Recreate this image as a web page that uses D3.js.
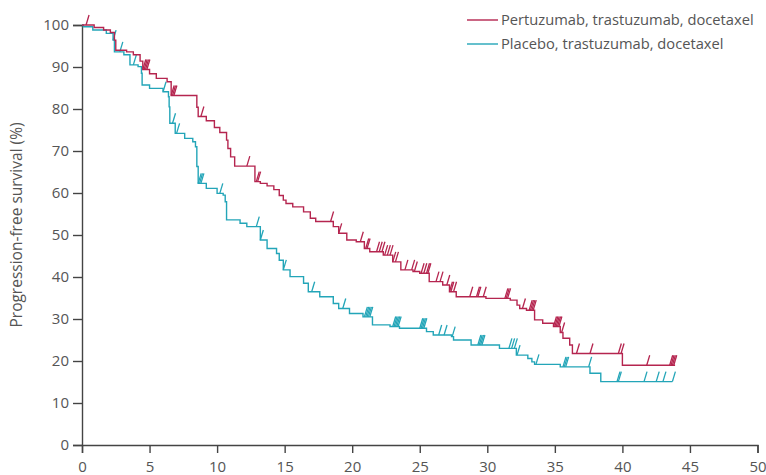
<!DOCTYPE html>
<html>
<head>
<meta charset="utf-8">
<script src="https://cdn.jsdelivr.net/npm/d3@7"></script>
<style>
  html, body { margin: 0; padding: 0; background: #fff; }
  svg { display: block; }
  text { font-family: "Open Sans", "Noto Sans", sans-serif; }
</style>
</head>
<body>
<svg id="chart" width="766" height="475"></svg>
<script>
// ---- Data ----
const seriesNames = ["Pertuzumab, trastuzumab, docetaxel", "Placebo, trastuzumab, docetaxel"];
const xTicks = [0, 5, 10, 15, 20, 25, 30, 35, 40, 45, 50];
const yTicks = [0, 10, 20, 30, 40, 50, 60, 70, 80, 90, 100];

// step curve: [time (months), survival (%)] — value holds from that time on
const pertuzumabSteps = [
  [0,100],[0.9,99.4],[1.6,98.8],[2.1,98.2],[2.4,96.4],[2.5,94.0],[3.3,93.6],[3.8,92.9],[4.3,91.4],[4.5,89.4],
  [5.0,88.4],[5.5,87.3],[6.3,86.5],[6.6,83.2],[8.5,80.4],[8.6,78.2],[9.2,77.2],[9.8,75.6],[10.2,74.4],[10.7,72.6],
  [10.8,70.6],[11.0,68.6],[11.3,66.4],[12.8,62.7],[13.2,62.3],[13.7,61.7],[14.2,60.8],[14.6,59.4],[14.9,58.3],[15.1,57.5],
  [15.6,56.7],[16.4,55.5],[16.9,54.0],[17.3,53.2],[18.6,52.0],[19.0,50.4],[19.6,48.8],[20.3,48.4],[20.9,46.8],[21.3,46.0],
  [22.3,45.2],[23.0,43.6],[23.6,41.7],[24.5,41.3],[25.0,40.9],[25.7,38.9],[26.7,38.1],[27.2,36.5],[27.7,35.3],[29.9,34.9],
  [31.7,34.5],[32.2,33.3],[32.4,32.5],[32.9,32.1],[33.5,29.8],[34.1,29.0],[34.9,28.2],[35.4,26.8],[35.6,25.4],[36.1,23.8],
  [36.3,21.8],[40.0,19.0]
];
const pertuzumabEnd = 43.9;
const pertuzumabCensored = [
  0.3, 4.5, 4.6, 4.7, 4.8, 6.6, 6.7, 6.8, 8.8, 12.2, 12.9, 13.0, 18.4, 19.0, 20.6, 21.0, 21.1,
  21.8, 22.0, 22.2, 22.4, 22.6, 22.8, 23.0, 23.2, 23.9, 24.4, 24.6, 25.1, 25.3, 25.5, 25.6, 26.2, 26.5,
  27.0, 27.2, 27.3, 27.5, 28.7, 29.2, 29.3, 29.7, 31.3, 31.4, 31.5, 32.6, 33.1, 33.2, 33.3, 33.4,
  34.9, 35.0, 35.1, 35.2, 35.3, 35.5, 36.6, 37.6, 39.7, 39.9, 41.8, 43.5, 43.6, 43.7, 43.8
];

const placeboSteps = [
  [0,100],[0.1,99.6],[0.8,98.8],[1.8,98.0],[2.3,96.4],[2.4,93.6],[3.1,92.9],[3.55,90.5],[4.15,90.1],[4.4,88.5],
  [4.45,85.7],[5.0,84.9],[6.0,84.1],[6.4,82.9],[6.45,80.5],[6.5,76.6],[6.9,74.2],[7.6,73.0],[8.2,72.2],[8.4,71.0],
  [8.5,66.3],[8.6,62.3],[9.2,61.1],[10.0,59.9],[10.45,59.5],[10.6,57.9],[10.7,53.6],[11.7,52.8],[12.2,52.0],[13.2,48.8],
  [13.7,46.8],[14.4,45.6],[14.6,44.0],[14.9,41.7],[15.4,40.1],[16.4,38.5],[16.75,36.5],[17.6,35.3],[18.6,33.7],[19.0,32.5],
  [19.8,31.3],[20.8,30.5],[21.5,28.6],[22.8,28.2],[23.5,27.8],[25.5,27.0],[26.0,26.2],[27.35,25.8],[27.5,25.0],[28.8,23.8],
  [30.9,23.0],[32.15,21.4],[33.0,20.6],[33.3,19.8],[33.5,19.2],[35.4,18.6],[37.6,17.1],[38.4,15.1]
];
const placeboEnd = 43.7;
const placeboCensored = [
  2.3, 2.8, 3.8, 6.0, 6.7, 7.0, 8.6, 8.7, 8.8, 10.2, 12.9, 13.2, 14.9, 17.0, 19.3,
  20.9, 21.0, 21.1, 21.2, 21.3, 23.0, 23.1, 23.2, 23.3, 23.4, 25.0, 25.1, 25.2, 25.3,
  26.4, 26.8, 27.4, 29.3, 29.4, 29.5, 29.6, 31.6, 31.8, 32.0, 32.2, 33.6, 35.6, 35.7, 35.8,
  37.5, 39.6, 39.7, 41.6, 42.5, 43.0, 43.7
];

const colors = ["#b5254f", "#23a5b8"];

// ---- Drawing ----
const svg = d3.select("#chart");
const x = d3.scaleLinear().domain([0, 50]).range([82, 757.5]);
const y = d3.scaleLinear().domain([0, 100]).range([445, 25]);

const textColor = "#555";
const axisColor = "#444";

const gx = svg.append("g").attr("transform", `translate(0,${y(0)})`)
  .call(d3.axisBottom(x).tickValues(xTicks).tickSize(8).tickPadding(8).tickFormat(d3.format("d")));
const gy = svg.append("g").attr("transform", `translate(${x(0)},0)`)
  .call(d3.axisLeft(y).tickValues(yTicks).tickSize(9).tickPadding(4).tickFormat(d3.format("d")));
[gx, gy].forEach(g => {
  g.select(".domain").attr("stroke", axisColor).attr("stroke-width", 1.4);
  g.selectAll(".tick line").attr("stroke", axisColor).attr("stroke-width", 1.4);
  g.selectAll(".tick text").attr("fill", textColor).style("font-size", "15px")
    .style("font-family", "'Open Sans', sans-serif");
});

svg.append("text")
  .attr("transform", `translate(22,${225}) rotate(-90)`)
  .attr("text-anchor", "middle")
  .attr("fill", textColor)
  .style("font-size", "15.5px")
  .text("Progression-free survival (%)");

function survivalAt(steps, t) {
  let v = steps[0][1];
  for (const s of steps) { if (s[0] <= t) v = s[1]; else break; }
  return v;
}

const line = d3.line().x(d => x(d[0])).y(d => y(d[1])).curve(d3.curveStepAfter);

function drawSeries(steps, end, censored, color) {
  const pts = steps.concat([[end, steps[steps.length - 1][1]]]);
  svg.append("path").datum(pts)
    .attr("d", line)
    .attr("fill", "none")
    .attr("stroke", color)
    .attr("stroke-width", 1.4);
  svg.append("g").selectAll("line").data(censored).join("line")
    .attr("x1", d => x(d))
    .attr("y1", d => y(survivalAt(steps, d)))
    .attr("x2", d => x(d) + 3)
    .attr("y2", d => y(survivalAt(steps, d)) - 10)
    .attr("stroke", color)
    .attr("stroke-width", 1.3);
}

drawSeries(placeboSteps, placeboEnd, placeboCensored, colors[1]);
drawSeries(pertuzumabSteps, pertuzumabEnd, pertuzumabCensored, colors[0]);

// Legend
const legend = svg.append("g");
seriesNames.forEach((name, i) => {
  const ly = 20 + i * 24;
  legend.append("line").attr("x1", 467).attr("x2", 498).attr("y1", ly).attr("y2", ly)
    .attr("stroke", colors[i]).attr("stroke-width", 1.4);
  legend.append("text").attr("x", 501).attr("y", ly).attr("dy", "0.35em")
    .attr("fill", textColor).style("font-size", "14.7px").text(name);
});
</script>
</body>
</html>
